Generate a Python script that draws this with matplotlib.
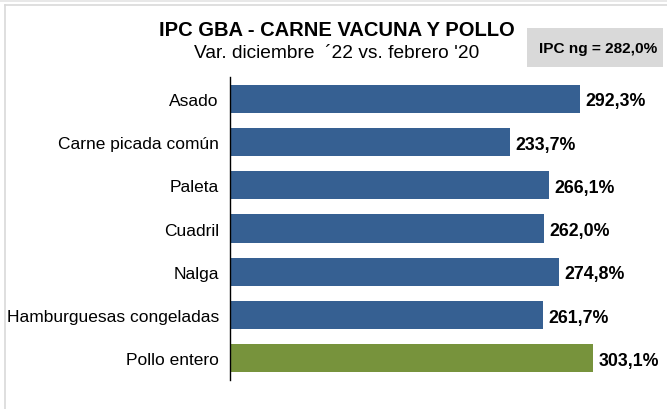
import matplotlib
matplotlib.use("Agg")
import matplotlib.pyplot as plt
from matplotlib.patches import Rectangle
from matplotlib.lines import Line2D

categories = ["Asado", "Carne picada común", "Paleta", "Cuadril", "Nalga",
              "Hamburguesas congeladas", "Pollo entero"]
values = [292.3, 233.7, 266.1, 262.0, 274.8, 261.7, 303.1]
labels = ["292,3%", "233,7%", "266,1%", "262,0%", "274,8%", "261,7%", "303,1%"]
colors = ["#366092"] * 6 + ["#77933C"]
title = "IPC GBA - CARNE VACUNA Y POLLO"
subtitle = "Var. diciembre  \u00b422 vs. febrero '20"
ipc_note = "IPC ng = 282,0%"

plt.rcParams['font.family'] = ['Liberation Sans', 'DejaVu Sans']

W, H = 667, 410
fig = plt.figure(figsize=(W / 100, H / 100), dpi=100)

# top gray strip and frame
fig.add_artist(Rectangle((0, 1 - 3 / H), 1, 3 / H, transform=fig.transFigure,
                         facecolor="#e8e8e8", edgecolor="none"))
fig.add_artist(Line2D([5 / W, 1], [1 - 6 / H, 1 - 6 / H], transform=fig.transFigure,
                      color="#d9d9d9", lw=1.2))
fig.add_artist(Line2D([5 / W, 5 / W], [0, 1 - 6 / H], transform=fig.transFigure,
                      color="#d9d9d9", lw=1.2))

ax = fig.add_axes([230 / W, 1 - 381 / H, 419 / W, 303 / H])
y = list(range(len(categories)))
ax.barh(y, values, height=0.65, color=colors)
ax.set_ylim(len(categories) - 0.5, -0.5)
ax.set_xlim(0, 350)
ax.set_yticks(y)
ax.set_yticklabels(categories, fontsize=12.5)
ax.tick_params(axis='y', length=0, pad=8)
ax.set_xticks([])
for s in ["top", "right", "bottom"]:
    ax.spines[s].set_visible(False)
ax.spines["left"].set_linewidth(1.0)
ax.spines["left"].set_color("black")

for yi, v, lab in zip(y, values, labels):
    ax.annotate(lab, (v, yi), xytext=(4, -1.5), textcoords="offset points",
                va="center", ha="left", fontsize=12.8, fontweight="bold")

fig.text(337 / W, 1 - 31 / H, title, ha="center", va="center",
         fontsize=14.5, fontweight="bold")
fig.text(337 / W, 1 - 54 / H, subtitle, ha="center", va="center", fontsize=13.8)

fig.add_artist(Rectangle((527 / W, 1 - 68 / H), 136 / W, 39 / H,
                         transform=fig.transFigure, facecolor="#d9d9d9",
                         edgecolor="none"))
fig.text(598 / W, 1 - 48.5 / H, ipc_note, ha="center", va="center",
         fontsize=11.1, fontweight="bold")

fig.savefig("out.png", dpi=100)
